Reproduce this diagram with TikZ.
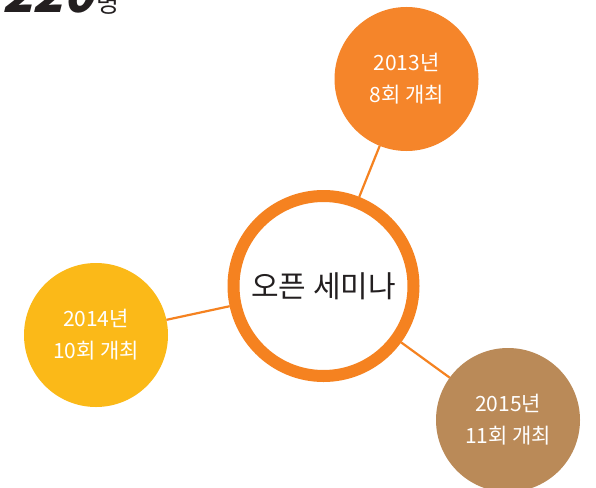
\documentclass[tikz,border=0pt]{standalone}
\usepackage{fontspec}
\setmainfont{Noto Sans CJK KR}
\newfontfamily\boldcjk[FakeSlant=0.25]{Noto Sans CJK KR Black}
\definecolor{ringor}{HTML}{F58220}
\definecolor{topor}{HTML}{F5852A}
\definecolor{lefty}{HTML}{FBB918}
\definecolor{brownc}{HTML}{BA8A58}
\definecolor{darktxt}{HTML}{231F20}
\begin{document}
\begin{tikzpicture}[x=1pt,y=-1pt,
  bubble/.style={circle, minimum size=144pt, inner sep=0pt, outer sep=0pt,
    text=white, align=center, font=\fontsize{21}{32}\selectfont},
  hub/.style={circle, draw=ringor, line width=12pt, fill=white, minimum size=180pt,
    inner sep=0pt, outer sep=6pt, text=darktxt, font=\fontsize{30}{34}\selectfont},
  link/.style={draw=ringor, line width=2.2pt}]
\clip (0,0) rectangle (596,487);
\fill[white] (0,0) rectangle (596,487);
\node[bubble, fill=topor] (y13) at (406.5,79) {2013년\\8회 개최};
\node[bubble, fill=lefty] (y14) at (96,335) {2014년\\10회 개최};
\node[bubble, fill=brownc] (y15) at (508,420) {2015년\\11회 개최};
\node[hub] (hub) at (323.5,286) {오픈 세미나};
\draw[link] (hub) -- (y13);
\draw[link] (hub) -- (y14);
\draw[link] (hub) -- (y15);
\node[anchor=base west, inner sep=0pt, text=darktxt] (cnt) at (2,13)
  {{\boldcjk\fontsize{50}{50}\selectfont 220}\hspace{3pt}{\fontsize{25}{25}\selectfont 명}};
\end{tikzpicture}
\end{document}
